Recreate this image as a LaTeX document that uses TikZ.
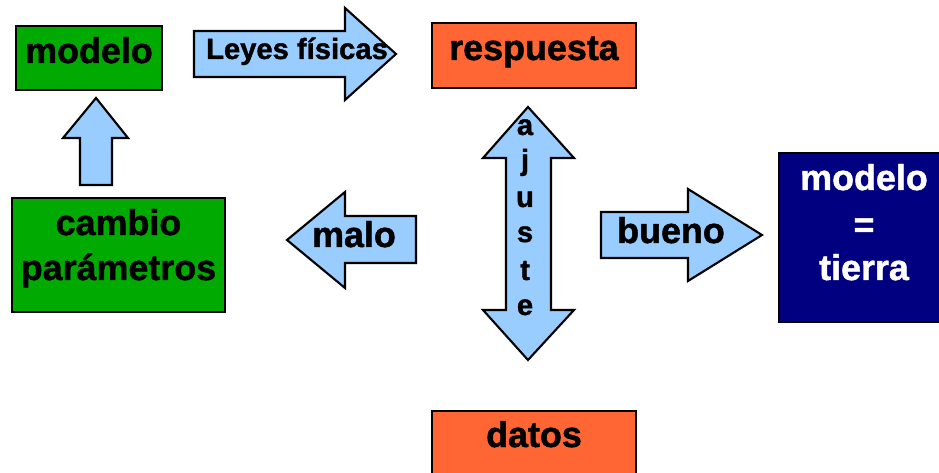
\documentclass[tikz,border=0pt]{standalone}
\usepackage{fontspec}
\setmainfont{Liberation Sans}[BoldFeatures={FakeBold=1.3}]
\definecolor{boxgreen}{HTML}{00AA00}
\definecolor{boxorange}{HTML}{FF6633}
\definecolor{arrowblue}{HTML}{99CCFF}
\definecolor{boxnavy}{HTML}{000080}
\begin{document}
\begin{tikzpicture}[x=0.01cm,y=-0.01cm,line width=0.6pt,
	box/.style={draw=black,rectangle,inner sep=0pt},
	blockarrow/.style={draw=black,fill=arrowblue,line join=miter},
	txt/.style={anchor=base,inner sep=0pt,font=\fontsize{10.2}{12.8}\selectfont\bfseries},
	smalltxt/.style={anchor=base,inner sep=0pt,font=\fontsize{8.3}{10}\selectfont\bfseries}]
	\useasboundingbox (0,0) rectangle (939,473);

	% boxes
	\node[box,fill=boxgreen,minimum width=1.46cm,minimum height=0.64cm] (modelo) at (89,58) {};
	\node[box,fill=boxorange,minimum width=2.04cm,minimum height=0.65cm] (respuesta) at (534,55.5) {};
	\node[box,fill=boxgreen,minimum width=2.13cm,minimum height=1.14cm] (cambio) at (118.5,255) {};
	\node[box,fill=boxnavy,minimum width=1.70cm,minimum height=1.69cm] (tierra) at (864,237.5) {};
	\node[box,fill=boxorange,minimum width=2.04cm,minimum height=0.79cm] (datos) at (534,450.5) {};

	% box texts
	\node[txt] (modelo-t) at (89,63) {modelo};
	\node[txt] (respuesta-t) at (534,60) {respuesta};
	\node[txt] (cambio-t1) at (118.5,235) {cambio};
	\node[txt] (cambio-t2) at (118.5,280) {parámetros};
	\node[txt,text=white] (tierra-t1) at (864,190) {modelo};
	\node[txt,text=white] (tierra-t2) at (864,237) {=};
	\node[txt,text=white] (tierra-t3) at (864,280) {tierra};
	\node[txt] (datos-t) at (534,447) {datos};

	% Leyes fisicas
	\draw[blockarrow] (194,31) -- (345,31) -- (345,8) -- (396,54) -- (345,100) -- (345,77) -- (194,77) -- cycle;
	\node[smalltxt] (leyes) at (297,59) {Leyes físicas};

	% cambio -> modelo
	\draw[blockarrow] (80,185) -- (80,138) -- (63,138) -- (96,98) -- (128,138) -- (112,138) -- (112,185) -- cycle;

	% malo
	\draw[blockarrow] (416,216) -- (345,216) -- (345,192) -- (287,240) -- (345,288) -- (345,263) -- (416,263) -- cycle;
	\node[txt] (malo) at (354,247) {malo};

	% bueno
	\draw[blockarrow] (601,212) -- (688,212) -- (688,189) -- (762,235) -- (688,281) -- (688,258) -- (601,258) -- cycle;
	\node[txt] (bueno) at (671,243) {bueno};

	% ajuste
	\draw[blockarrow] (528,107) -- (574,158) -- (551,158) -- (551,310) -- (574,310) -- (528,360) -- (483,310) -- (506,310) -- (506,158) -- (483,158) -- cycle;
	\foreach \l/\y [count=\i] in {a/135,j/170,u/207,s/242,t/280,e/315}
		\node[smalltxt] (ajuste-\i) at (525,\y) {\l};

\end{tikzpicture}
\end{document}
